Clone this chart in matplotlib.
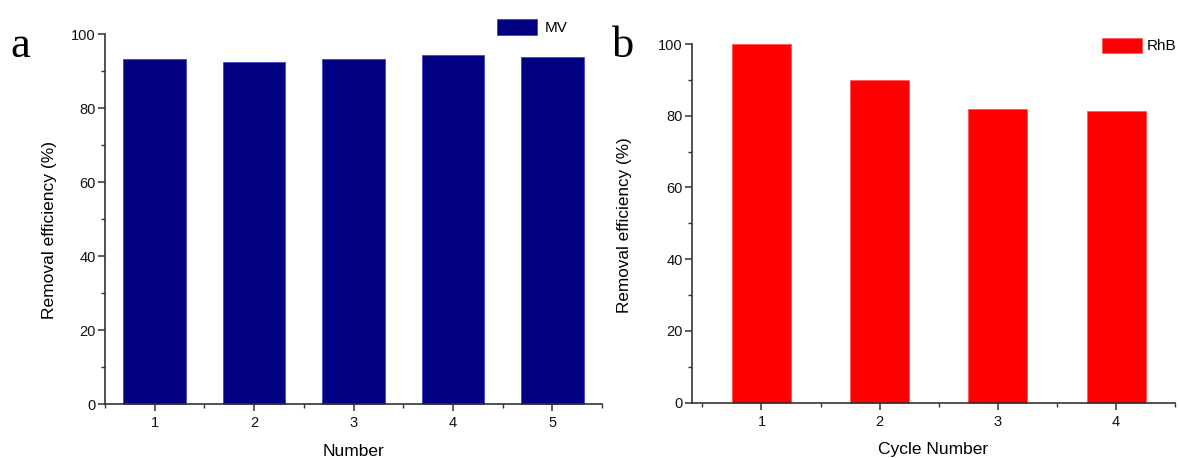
import matplotlib.pyplot as plt
from matplotlib.ticker import MultipleLocator

plt.rcParams['font.family'] = ['Liberation Sans', 'DejaVu Sans']

# panel a: removal efficiency of MV over 5 runs
mv_runs = [1, 2, 3, 4, 5]
mv_eff = [93.2, 92.6, 93.2, 94.4, 93.8]

# panel b: removal efficiency of RhB over 4 cycles
rhb_cycles = [1, 2, 3, 4]
rhb_eff = [100.0, 90.0, 82.0, 81.4]

W, H = 1179, 458
fig = plt.figure(figsize=(W / 100, H / 100), dpi=100)
ax1 = fig.add_axes([105 / W, 1 - 404.3 / H, 497 / W, 370 / H])
ax2 = fig.add_axes([691.7 / W, 1 - 402.7 / H, 483.5 / W, 358.7 / H])


def style_axes(ax):
    for side in ('top', 'right'):
        ax.spines[side].set_visible(False)
    for side in ('left', 'bottom'):
        ax.spines[side].set_color('#333333')
        ax.spines[side].set_linewidth(1.2)
    ax.yaxis.set_major_locator(MultipleLocator(20))
    ax.yaxis.set_minor_locator(MultipleLocator(10))
    ax.tick_params(which='major', direction='out', length=5, width=1.1,
                   labelsize=10.5, pad=1.5, colors='#333333', labelcolor='#111111')
    ax.tick_params(axis='x', which='major', pad=3.5)
    ax.tick_params(which='minor', direction='out', length=3, width=1.0,
                   colors='#333333')
    ax.set_ylim(0, 100)


ax1.bar(mv_runs, mv_eff, width=0.63, color='#000080', edgecolor='#3a3ad0',
        linewidth=0.5, label='MV', clip_on=False)
style_axes(ax1)
ax1.set_xlim(0.5, 5.5)
ax1.set_xticks(mv_runs)
ax1.xaxis.set_minor_locator(MultipleLocator(0.5))
ax1.set_xlabel('Number', fontsize=12.5, labelpad=10)
fig.text(50 / W, 1 - 230 / H, 'Removal efficiency (%)', rotation=90,
         ha='center', va='center', fontsize=12.5)
fig.legend(*ax1.get_legend_handles_labels(), loc='upper left',
           bbox_to_anchor=(496.7 / W, 1 - 19.5 / H), frameon=False,
           borderpad=0, borderaxespad=0, fontsize=11,
           handlelength=2.65, handleheight=1.2, handletextpad=0.5)
fig.text(10 / W, 1 - 57 / H, 'a', fontsize=32, family='Liberation Serif')

ax2.bar(rhb_cycles, rhb_eff, width=0.5, color='#ff0000', edgecolor='#ff5050',
        linewidth=0.5, label='RhB', clip_on=False)
style_axes(ax2)
ax2.set_xlim(0.41, 4.5)
ax2.set_xticks(rhb_cycles)
ax2.set_xticks([0.5, 1.5, 2.5, 3.5, 4.5], minor=True)
ax2.set_xlabel('Cycle Number', fontsize=12.5, labelpad=10)
fig.text(625 / W, 1 - 225.5 / H, 'Removal efficiency (%)', rotation=90,
         ha='center', va='center', fontsize=12.3)
fig.legend(*ax2.get_legend_handles_labels(), loc='upper left',
           bbox_to_anchor=(1102.3 / W, 1 - 37.5 / H), frameon=False,
           borderpad=0, borderaxespad=0, fontsize=11,
           handlelength=2.6, handleheight=1.15, handletextpad=0.28)
fig.text(612 / W, 1 - 57 / H, 'b', fontsize=32, family='Liberation Serif')

fig.savefig('out.png', dpi=100, facecolor='white')
